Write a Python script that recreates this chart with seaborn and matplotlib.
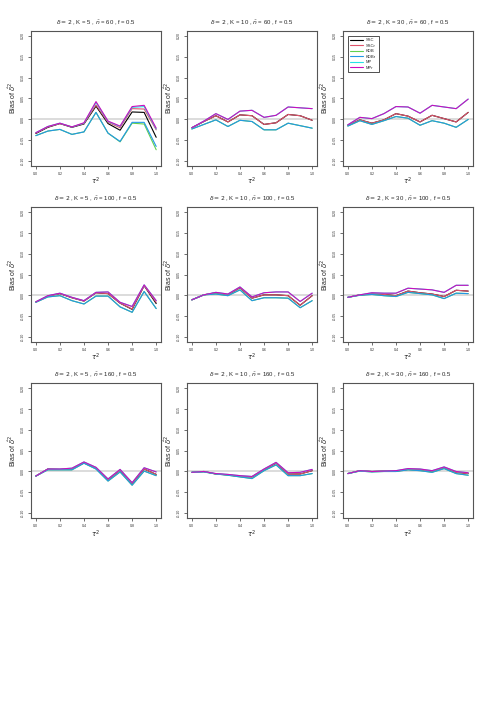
import numpy as np
import pandas as pd
import matplotlib
matplotlib.use("Agg")
import matplotlib.pyplot as plt
import seaborn as sns

tau2 = [0.0, 0.1, 0.2, 0.3, 0.4, 0.5, 0.6, 0.7, 0.8, 0.9, 1.0]
methods = ["SSC", "SSCr", "KDB", "KDBr", "MP", "MPr"]
colors = ["black", "#DF536B", "#61D04F", "#2297E6", "#28E2E5", "#CD0BBC"]
K_vals = [5, 10, 30]
n_vals = [60, 100, 160]
y_ticks = [-0.10, -0.05, 0.00, 0.05, 0.10, 0.15, 0.20]
x_ticks = [0.0, 0.2, 0.4, 0.6, 0.8, 1.0]

# Panel K=5, n=60
p1_SSC  = [-0.035, -0.020, -0.011, -0.020, -0.012, 0.031, -0.011, -0.027, 0.017, 0.016, -0.044]
p1_SSCr = [-0.034, -0.019, -0.011, -0.019, -0.011, 0.034, -0.008, -0.021, 0.025, 0.024, -0.026]
p1_KDB  = [-0.040, -0.029, -0.025, -0.037, -0.031, 0.016, -0.034, -0.055, -0.010, -0.012, -0.074]
p1_KDBr = [-0.040, -0.029, -0.025, -0.037, -0.031, 0.016, -0.034, -0.054, -0.008, -0.008, -0.066]
p1_MP   = [-0.033, -0.018, -0.010, -0.019, -0.010, 0.040, -0.006, -0.018, 0.028, 0.030, -0.024]
p1_MPr  = [-0.033, -0.018, -0.010, -0.019, -0.009, 0.042, -0.005, -0.017, 0.030, 0.033, -0.022]
# Panel K=10, n=60
p2_SSC  = [-0.021, -0.006, 0.008, -0.007, 0.010, 0.008, -0.013, -0.009, 0.011, 0.008, -0.003]
p2_SSCr = [-0.021, -0.006, 0.008, -0.007, 0.010, 0.008, -0.013, -0.009, 0.011, 0.008, -0.003]
p2_KDB  = [-0.024, -0.013, -0.002, -0.018, -0.003, -0.006, -0.026, -0.026, -0.010, -0.016, -0.022]
p2_KDBr = [-0.024, -0.013, -0.002, -0.018, -0.003, -0.006, -0.026, -0.026, -0.010, -0.016, -0.022]
p2_MP   = [-0.021, -0.005, 0.013, -0.001, 0.019, 0.021, 0.004, 0.009, 0.029, 0.027, 0.025]
p2_MPr  = [-0.021, -0.005, 0.013, -0.001, 0.019, 0.021, 0.004, 0.009, 0.029, 0.027, 0.025]
# Panel K=30, n=60
p3_SSC  = [-0.015, -0.002, -0.010, -0.002, 0.013, 0.007, -0.007, 0.009, 0.001, -0.007, 0.016]
p3_SSCr = [-0.015, -0.002, -0.010, -0.002, 0.013, 0.007, -0.007, 0.009, 0.001, -0.007, 0.016]
p3_KDB  = [-0.017, -0.004, -0.013, -0.004, 0.006, 0.002, -0.015, -0.004, -0.010, -0.020, -0.001]
p3_KDBr = [-0.017, -0.004, -0.013, -0.004, 0.006, 0.002, -0.015, -0.004, -0.010, -0.020, -0.001]
p3_MP   = [-0.014, 0.004, 0.001, 0.013, 0.030, 0.029, 0.014, 0.033, 0.029, 0.025, 0.048]
p3_MPr  = [-0.014, 0.004, 0.001, 0.013, 0.030, 0.029, 0.014, 0.033, 0.029, 0.025, 0.048]
# Panel K=5, n=100
p4_SSC  = [-0.016, -0.002, 0.004, -0.006, -0.014, 0.006, 0.004, -0.019, -0.034, 0.023, -0.020]
p4_SSCr = [-0.016, -0.002, 0.004, -0.006, -0.014, 0.006, 0.004, -0.019, -0.033, 0.023, -0.017]
p4_KDB  = [-0.017, -0.004, -0.001, -0.013, -0.021, -0.002, -0.002, -0.028, -0.041, 0.009, -0.032]
p4_KDBr = [-0.017, -0.004, -0.001, -0.013, -0.021, -0.002, -0.002, -0.028, -0.041, 0.009, -0.032]
p4_MP   = [-0.016, -0.001, 0.005, -0.005, -0.013, 0.007, 0.008, -0.017, -0.027, 0.025, -0.013]
p4_MPr  = [-0.016, -0.001, 0.005, -0.005, -0.013, 0.007, 0.008, -0.017, -0.027, 0.025, -0.013]
# Panel K=10, n=100
p5_SSC  = [-0.011, 0.001, 0.006, 0.001, 0.018, -0.007, 0.001, 0.001, -0.001, -0.024, -0.001]
p5_SSCr = [-0.011, 0.001, 0.006, 0.001, 0.018, -0.007, 0.001, 0.001, -0.001, -0.024, -0.001]
p5_KDB  = [-0.011, 0.001, 0.003, -0.001, 0.013, -0.013, -0.006, -0.006, -0.007, -0.030, -0.013]
p5_KDBr = [-0.011, 0.001, 0.003, -0.001, 0.013, -0.013, -0.006, -0.006, -0.007, -0.030, -0.013]
p5_MP   = [-0.011, 0.001, 0.007, 0.003, 0.020, -0.004, 0.006, 0.008, 0.008, -0.015, 0.005]
p5_MPr  = [-0.011, 0.001, 0.007, 0.003, 0.020, -0.004, 0.006, 0.008, 0.008, -0.015, 0.005]
# Panel K=30, n=100
p6_SSC  = [-0.005, 0.001, 0.003, 0.002, -0.001, 0.010, 0.006, 0.003, -0.003, 0.012, 0.010]
p6_SSCr = [-0.005, 0.001, 0.003, 0.002, -0.001, 0.010, 0.006, 0.003, -0.003, 0.012, 0.010]
p6_KDB  = [-0.005, 0.000, 0.002, -0.001, -0.003, 0.007, 0.004, 0.001, -0.008, 0.005, 0.004]
p6_KDBr = [-0.005, 0.000, 0.002, -0.001, -0.003, 0.007, 0.004, 0.001, -0.008, 0.005, 0.004]
p6_MP   = [-0.005, 0.001, 0.006, 0.005, 0.005, 0.017, 0.015, 0.013, 0.007, 0.024, 0.024]
p6_MPr  = [-0.005, 0.001, 0.006, 0.005, 0.005, 0.017, 0.015, 0.013, 0.007, 0.024, 0.024]
# Panel K=5, n=160
p7_SSC  = [-0.011, 0.006, 0.005, 0.006, 0.021, 0.008, -0.020, 0.003, -0.029, 0.006, -0.007]
p7_SSCr = [-0.011, 0.006, 0.005, 0.006, 0.021, 0.008, -0.020, 0.003, -0.029, 0.006, -0.007]
p7_KDB  = [-0.011, 0.004, 0.004, 0.004, 0.020, 0.006, -0.023, -0.001, -0.033, 0.001, -0.010]
p7_KDBr = [-0.011, 0.004, 0.004, 0.004, 0.020, 0.006, -0.023, -0.001, -0.033, 0.001, -0.010]
p7_MP   = [-0.011, 0.006, 0.006, 0.008, 0.023, 0.010, -0.018, 0.005, -0.027, 0.009, -0.001]
p7_MPr  = [-0.011, 0.006, 0.006, 0.008, 0.023, 0.010, -0.018, 0.005, -0.027, 0.009, -0.001]
# Panel K=10, n=160
p8_SSC  = [-0.002, 0.000, -0.006, -0.008, -0.012, -0.013, 0.004, 0.020, -0.006, -0.006, 0.002]
p8_SSCr = [-0.002, 0.000, -0.006, -0.008, -0.012, -0.013, 0.004, 0.020, -0.006, -0.006, 0.002]
p8_KDB  = [-0.002, -0.001, -0.006, -0.009, -0.013, -0.017, 0.002, 0.016, -0.010, -0.010, -0.005]
p8_KDBr = [-0.002, -0.001, -0.006, -0.009, -0.013, -0.017, 0.002, 0.016, -0.010, -0.010, -0.005]
p8_MP   = [-0.002, 0.000, -0.005, -0.007, -0.010, -0.012, 0.006, 0.022, -0.003, -0.002, 0.005]
p8_MPr  = [-0.002, 0.000, -0.005, -0.007, -0.010, -0.012, 0.006, 0.022, -0.003, -0.002, 0.005]
# Panel K=30, n=160
p9_SSC  = [-0.005, 0.002, 0.000, 0.001, 0.001, 0.005, 0.004, 0.000, 0.009, -0.002, -0.005]
p9_SSCr = [-0.005, 0.002, 0.000, 0.001, 0.001, 0.005, 0.004, 0.000, 0.009, -0.002, -0.005]
p9_KDB  = [-0.005, 0.001, -0.001, 0.000, 0.000, 0.004, 0.002, -0.002, 0.007, -0.005, -0.009]
p9_KDBr = [-0.005, 0.001, -0.001, 0.000, 0.000, 0.004, 0.002, -0.002, 0.007, -0.005, -0.009]
p9_MP   = [-0.005, 0.002, 0.000, 0.001, 0.002, 0.007, 0.006, 0.002, 0.011, 0.000, -0.003]
p9_MPr  = [-0.005, 0.002, 0.000, 0.001, 0.002, 0.007, 0.006, 0.002, 0.011, 0.000, -0.003]

panels = [
    [p1_SSC, p1_SSCr, p1_KDB, p1_KDBr, p1_MP, p1_MPr],
    [p2_SSC, p2_SSCr, p2_KDB, p2_KDBr, p2_MP, p2_MPr],
    [p3_SSC, p3_SSCr, p3_KDB, p3_KDBr, p3_MP, p3_MPr],
    [p4_SSC, p4_SSCr, p4_KDB, p4_KDBr, p4_MP, p4_MPr],
    [p5_SSC, p5_SSCr, p5_KDB, p5_KDBr, p5_MP, p5_MPr],
    [p6_SSC, p6_SSCr, p6_KDB, p6_KDBr, p6_MP, p6_MPr],
    [p7_SSC, p7_SSCr, p7_KDB, p7_KDBr, p7_MP, p7_MPr],
    [p8_SSC, p8_SSCr, p8_KDB, p8_KDBr, p8_MP, p8_MPr],
    [p9_SSC, p9_SSCr, p9_KDB, p9_KDBr, p9_MP, p9_MPr],
]

sns.set_theme(style="white")
plt.rcParams["font.family"] = ["Liberation Sans", "DejaVu Sans"]
plt.rcParams["mathtext.fontset"] = "dejavusans"

fig, axes = plt.subplots(3, 3, figsize=(4.95, 7.26), dpi=100)
fig.subplots_adjust(left=31/495, right=473/495, top=1-31/726, bottom=1-518/726,
                     wspace=0.2, hspace=0.31)
palette = dict(zip(methods, colors))

for i, ax in enumerate(axes.flat):
    r, c = divmod(i, 3)
    rows = []
    for m, vals in zip(methods, panels[i]):
        for t, v in zip(tau2, vals):
            rows.append({"tau2": t, "bias": v, "method": m})
    df = pd.DataFrame(rows)
    ax.axhline(0, color="#D9D9D9", lw=1.3, zorder=0)
    sns.lineplot(data=df, x="tau2", y="bias", hue="method", hue_order=methods,
                 palette=palette, ax=ax, linewidth=0.8, legend=False, zorder=2)
    ax.set_xlim(-0.04, 1.04)
    ax.set_ylim(-0.112, 0.212)
    ax.set_xticks(x_ticks)
    ax.set_xticklabels([f"{v:.1f}" for v in x_ticks])
    ax.set_yticks(y_ticks)
    ax.set_yticklabels([f"{v:.2f}" for v in y_ticks], rotation=90, va="center")
    ax.tick_params(axis="both", which="both", direction="out", length=2.5, width=0.5,
                   labelsize=2.6, pad=2, colors="#333333", left=True, bottom=True)
    for s in ax.spines.values():
        s.set_color("#555555")
        s.set_linewidth(0.8)
    ax.set_xlabel(r"$\tau^2$", fontsize=5, labelpad=0)
    ax.set_ylabel(r"Bias of $\hat{\delta}^2$", fontsize=5, labelpad=2)
    ax.set_title(r"$\delta=2$ , K = %d , $\bar{n}$ = %d , f = 0.5" % (K_vals[c], n_vals[r]),
                 fontsize=4.3, pad=5)

from matplotlib.lines import Line2D
handles = [Line2D([0], [0], color=col, lw=0.8) for col in colors]
leg = axes[0, 2].legend(handles, methods, loc="upper left", fontsize=3, frameon=True,
                        fancybox=False, edgecolor="black", handlelength=3,
                        borderpad=0.6, labelspacing=0.35, bbox_to_anchor=(0.02, 0.98))
leg.get_frame().set_linewidth(0.6)

fig.savefig("out.png", dpi=100)
